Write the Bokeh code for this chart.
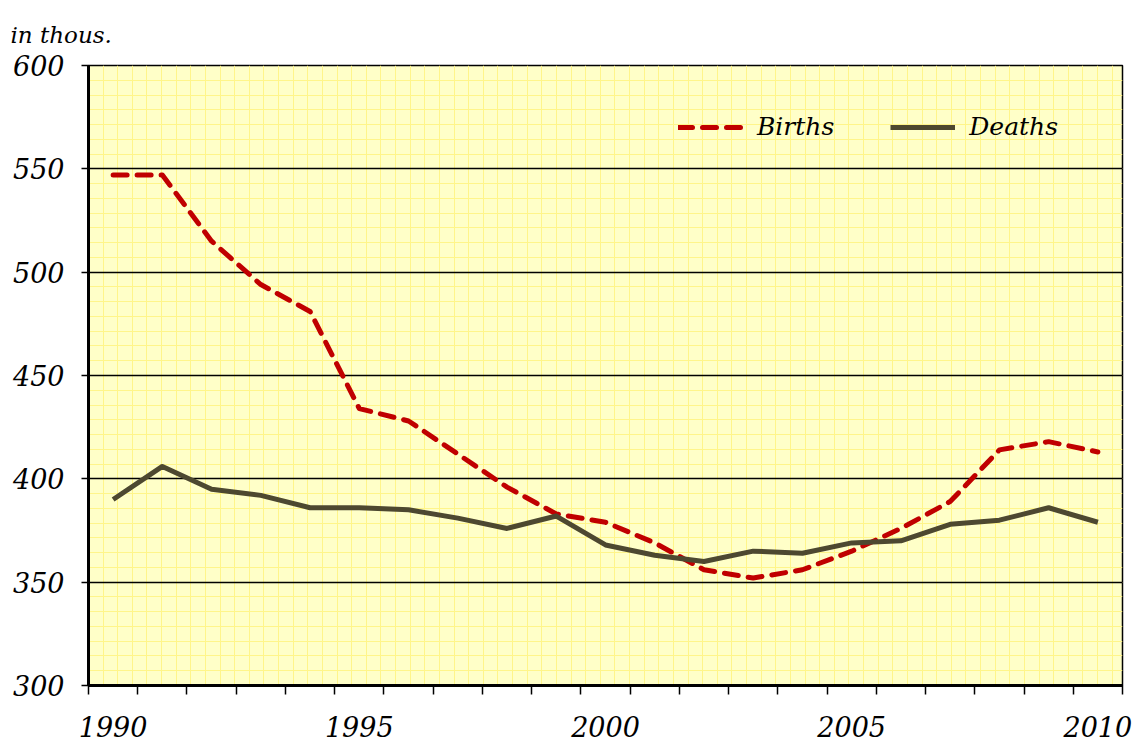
import numpy as np
from bokeh.plotting import figure
from bokeh.models import FixedTicker, Legend, LegendItem
from bokeh.embed import file_html
from bokeh.resources import INLINE

years = list(range(1990, 2011))
births = [547, 547, 515, 494, 481, 434, 428, 412, 396, 383, 379, 369, 356, 352, 356, 365, 376, 389, 414, 418, 413]
deaths = [390, 406, 395, 392, 386, 386, 385, 381, 376, 382, 368, 363, 360, 365, 364, 369, 370, 378, 380, 386, 379]
x_labels = [1990, 1995, 2000, 2005, 2010]
y_ticks = [300, 350, 400, 450, 500, 550, 600]

FONT = "DejaVu Serif"

p = figure(width=1134, height=742, output_backend="svg", toolbar_location=None,
           x_range=(1989.5, 2010.5), y_range=(300, 600),
           min_border_left=88, min_border_top=65, min_border_right=12, min_border_bottom=57)

p.background_fill_color = "#FFFFC8"
p.border_fill_color = "white"
p.outline_line_color = "black"
p.outline_line_width = 1.5

# title
p.title.text = "in thous."
p.title.align = "left"
p.title.text_font = FONT
p.title.text_font_style = "italic"
p.title.text_font_size = "23px"
p.title.text_color = "black"
p.title.offset = -78
p.title.standoff = 36

# grids
p.xgrid.ticker = FixedTicker(ticks=[], minor_ticks=list(np.arange(1989.5, 2010.5, 0.297)))
p.xgrid.grid_line_color = None
p.xgrid.minor_grid_line_color = "#FFF58A"
p.xgrid.minor_grid_line_width = 1
p.ygrid.ticker = FixedTicker(ticks=[350, 400, 450, 500, 550],
                             minor_ticks=list(np.arange(300, 600, 50 / 7)))
p.ygrid.grid_line_color = "black"
p.ygrid.grid_line_width = 1.5
p.ygrid.minor_grid_line_color = "#FFF58A"
p.ygrid.minor_grid_line_width = 1

# axes
xa = p.xaxis[0]
xa.ticker = FixedTicker(ticks=x_labels, minor_ticks=[y - 0.5 for y in years] + [2010.5])
xa.major_tick_line_color = None
xa.minor_tick_in = 0
xa.minor_tick_out = 9
xa.minor_tick_line_width = 1.5
xa.minor_tick_line_color = "black"
xa.axis_line_width = 3
xa.axis_line_color = "black"
xa.major_label_text_font = FONT
xa.major_label_text_font_style = "italic"
xa.major_label_text_font_size = "27px"
xa.major_label_text_color = "black"
xa.major_label_standoff = 21

ya = p.yaxis[0]
ya.ticker = FixedTicker(ticks=y_ticks, minor_ticks=[])
ya.major_tick_in = 0
ya.major_tick_out = 7
ya.major_tick_line_width = 1.5
ya.major_tick_line_color = "black"
ya.axis_line_width = 3
ya.axis_line_color = "black"
ya.major_label_text_font = FONT
ya.major_label_text_font_style = "italic"
ya.major_label_text_font_size = "27px"
ya.major_label_text_color = "black"
ya.major_label_standoff = 17

rb = p.line(years, births, line_color="#C00000", line_width=5, line_dash="14 10",
            line_cap="round", line_join="round")
rd = p.line(years, deaths, line_color="#4D4830", line_width=5, line_join="round")

legend = Legend(items=[LegendItem(label="Births", renderers=[rb]),
                       LegendItem(label="Deaths", renderers=[rd])],
                orientation="horizontal", location=(580, 534))
legend.background_fill_alpha = 0
legend.border_line_alpha = 0
legend.label_text_font = FONT
legend.label_text_font_style = "italic"
legend.label_text_font_size = "25px"
legend.label_text_color = "black"
legend.glyph_width = 65
legend.label_standoff = 14
legend.spacing = 56
p.add_layout(legend)

open("out.html", "w").write(file_html(p, INLINE))
